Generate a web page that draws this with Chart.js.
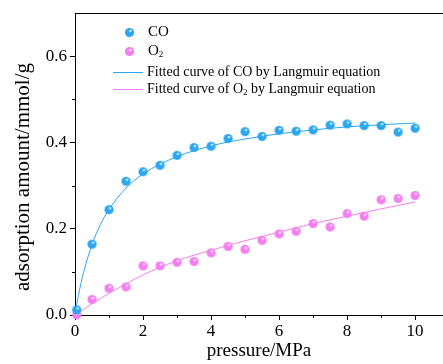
<!DOCTYPE html>
<html>
<head>
<meta charset="utf-8">
<script src="https://cdn.jsdelivr.net/npm/chart.js@4.4.1/dist/chart.umd.min.js"></script>
<style>
html,body{margin:0;padding:0;background:#fff;}
#wrap{position:relative;width:443px;height:364px;}
</style>
</head>
<body>
<div id="wrap"><canvas id="c" width="443" height="364"></canvas></div>
<script>
// ---- data ----
const pressureCO = [0.05,0.5,1,1.5,2,2.5,3,3.5,4,4.5,5,5.5,6,6.5,7,7.5,8,8.5,9,9.5,10];
const adsorptionCO = [0.012,0.164,0.244,0.310,0.332,0.347,0.370,0.388,0.391,0.409,0.425,0.414,0.428,0.426,0.429,0.440,0.443,0.439,0.439,0.424,0.433];
const pressureO2 = [0.05,0.5,1,1.5,2,2.5,3,3.5,4,4.5,5,5.5,6,6.5,7,7.5,8,8.5,9,9.5,10];
const adsorptionO2 = [0.0,0.036,0.062,0.065,0.114,0.114,0.122,0.124,0.144,0.159,0.152,0.173,0.188,0.194,0.212,0.204,0.235,0.229,0.267,0.270,0.277];
const fitPressureCO = [0,0.1,0.25,0.5,0.75,1,1.5,2,3,4,5,6,7,8,9,10];
const fitCO = [0,0.045,0.098,0.163,0.210,0.245,0.294,0.327,0.367,0.392,0.408,0.420,0.429,0.436,0.441,0.445];
const fitPressureO2 = [0,0.5,1,2,3,4,5,6,7,8,9,10];
const fitO2 = [0,0.026,0.050,0.093,0.126,0.150,0.172,0.192,0.212,0.229,0.246,0.262];
const xTickValues = [0,2,4,6,8,10];
const xMinorValues = [1,3,5,7,9];
const yTickValues = [0,0.2,0.4,0.6];
const yMinorValues = [0.1,0.3,0.5];
const legendLabels = ["CO","O2","Fitted curve of CO by Langmuir equation","Fitted curve of O2 by Langmuir equation"];
const xTitle = 'pressure/MPa';
const yTitle = 'adsorption amount/mmol/g';

const COL_CO = '#2aa6f0';
const COL_O2 = '#f47ef0';
const FONT = '"Liberation Serif", "Times New Roman", serif';

function sphere(color){
  const s = 11, c = document.createElement('canvas');
  c.width = s; c.height = s;
  const g = c.getContext('2d');
  const grad = g.createRadialGradient(6.6,3.6,0.3,5.5,5.5,5.2);
  grad.addColorStop(0,'#ffffff');
  grad.addColorStop(0.3,color);
  grad.addColorStop(1,color);
  g.fillStyle = grad;
  g.beginPath(); g.arc(5.5,5.5,4.6,0,Math.PI*2); g.fill();
  return c;
}
const sphCO = sphere(COL_CO), sphO2 = sphere(COL_O2);

function drawSubText(ctx, x, y, text, size){
  const parts = text.split('O2');
  ctx.textBaseline = 'middle';
  ctx.textAlign = 'left';
  let cx = x;
  parts.forEach((p,i)=>{
    ctx.font = size+'px '+FONT;
    ctx.fillText(p, cx, y); cx += ctx.measureText(p).width;
    if(i < parts.length-1){
      ctx.fillText('O', cx, y); cx += ctx.measureText('O').width;
      ctx.font = Math.round(size*0.62)+'px '+FONT;
      ctx.fillText('2', cx, y+4); cx += ctx.measureText('2').width;
    }
  });
}

const framePlugin = {
  id:'frame',
  afterDraw(chart){
    const ctx = chart.ctx, a = chart.chartArea;
    const xs = chart.scales.x, ys = chart.scales.y;
    ctx.save();
    ctx.strokeStyle = '#000'; ctx.lineWidth = 1;
    ctx.beginPath();
    ctx.moveTo(a.left, a.top+0.5); ctx.lineTo(a.right, a.top+0.5);
    xMinorValues.forEach(v=>{const px=Math.round(xs.getPixelForValue(v))+0.5; ctx.moveTo(px,a.bottom); ctx.lineTo(px,a.bottom+3);});
    yMinorValues.forEach(v=>{const py=Math.round(ys.getPixelForValue(v))+0.5; ctx.moveTo(a.left,py); ctx.lineTo(a.left-3,py);});
    ctx.stroke();
    // y title
    ctx.save();
    ctx.fillStyle = '#000';
    ctx.translate(23, 177);
    ctx.rotate(-Math.PI/2);
    ctx.font = '21px '+FONT;
    ctx.textAlign = 'center'; ctx.textBaseline = 'middle';
    ctx.fillText(yTitle, 0, 0);
    ctx.restore();
    // legend
    ctx.fillStyle = '#000';
    ctx.drawImage(sphCO, 124, 27);
    ctx.drawImage(sphO2, 124, 46);
    drawSubText(ctx, 148, 32, legendLabels[0], 15);
    drawSubText(ctx, 148, 51, legendLabels[1], 15);
    ctx.lineWidth = 1;
    ctx.strokeStyle = COL_CO; ctx.beginPath(); ctx.moveTo(113,72.5); ctx.lineTo(143,72.5); ctx.stroke();
    ctx.strokeStyle = COL_O2; ctx.beginPath(); ctx.moveTo(113,89.5); ctx.lineTo(143,89.5); ctx.stroke();
    ctx.fillStyle = '#000';
    drawSubText(ctx, 147, 72, legendLabels[2], 14);
    drawSubText(ctx, 147, 89, legendLabels[3], 14);
    ctx.restore();
  }
};

new Chart(document.getElementById('c'), {
  type:'scatter',
  data:{
    datasets:[
      {label:'fitO2', data:fitPressureO2.map((x,i)=>({x, y:fitO2[i]})), showLine:true, borderColor:COL_O2, borderWidth:1, pointRadius:0, cubicInterpolationMode:'monotone', order:4},
      {label:'fitCO', data:fitPressureCO.map((x,i)=>({x, y:fitCO[i]})), showLine:true, borderColor:COL_CO, borderWidth:1, pointRadius:0, cubicInterpolationMode:'monotone', order:3},
      {label:'O2', data:pressureO2.map((x,i)=>({x, y:adsorptionO2[i]})), pointStyle:sphO2, pointRadius:5, order:2},
      {label:'CO', data:pressureCO.map((x,i)=>({x, y:adsorptionCO[i]})), pointStyle:sphCO, pointRadius:5, order:1}
    ]
  },
  options:{
    responsive:false, animation:false, clip:false,
    layout:{autoPadding:false, padding:{top:13,right:0,left:0,bottom:0}},
    plugins:{legend:{display:false}, tooltip:{enabled:false}},
    scales:{
      x:{
        type:'linear', min:0, max:10.82,
        afterBuildTicks(s){ s.ticks = xTickValues.map(v=>({value:v})); },
        afterFit(s){ s.height = 49; s.paddingLeft = 0; s.paddingRight = 0; },
        border:{color:'#000', width:1},
        grid:{drawOnChartArea:false, drawTicks:true, tickLength:5, color:'#000'},
        ticks:{color:'#000', font:{family:FONT, size:17}, padding:1, maxRotation:0, callback:v=>String(v)},
        title:{display:true, text:xTitle, color:'#000', font:{family:FONT, size:19}, padding:{top:0,bottom:2}}
      },
      y:{
        type:'linear', min:0, max:0.7,
        afterBuildTicks(s){ s.ticks = yTickValues.map(v=>({value:v})); },
        afterFit(s){ s.width = 75; s.paddingTop = 0; s.paddingBottom = 0; },
        border:{color:'#000', width:1},
        grid:{drawOnChartArea:false, drawTicks:true, tickLength:5, color:'#000'},
        ticks:{color:'#000', font:{family:FONT, size:17}, padding:3, callback:v=>Number(v).toFixed(1)},
        title:{display:false}
      }
    }
  },
  plugins:[framePlugin]
});
</script>
</body>
</html>
